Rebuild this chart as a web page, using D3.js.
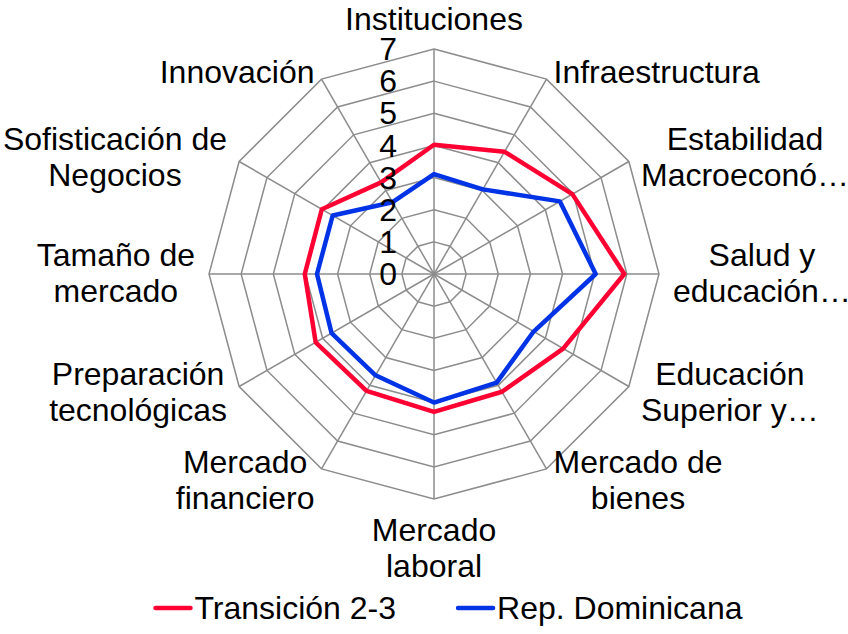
<!DOCTYPE html>
<html>
<head>
<meta charset="utf-8">
<script src="https://cdn.jsdelivr.net/npm/d3@7"></script>
<style>
  body { margin: 0; background: #fff; }
  text { font-family: "Liberation Sans", Arial, sans-serif; fill: #000; }
</style>
</head>
<body>
<div id="plot"></div>
<script>
// categories, clockwise from the top; each entry is the label's lines
const categories = [
  ["Instituciones"],
  ["Infraestructura"],
  ["Estabilidad", "Macroeconó…"],
  ["Salud y", "educación…"],
  ["Educación", "Superior y…"],
  ["Mercado de", "bienes"],
  ["Mercado", "laboral"],
  ["Mercado", "financiero"],
  ["Preparación", "tecnológicas"],
  ["Tamaño de", "mercado"],
  ["Sofisticación de", "Negocios"],
  ["Innovación"]
];
const transicion = [4.02, 4.39, 4.97, 5.92, 4.64, 4.23, 4.29, 4.2, 4.25, 4.02, 4.03, 3.29];
const repDominicana = [3.11, 3.04, 4.52, 5.03, 3.58, 3.9, 4.0, 3.64, 3.68, 3.64, 3.64, 2.58];
const seriesNames = ["Transición 2-3", "Rep. Dominicana"];
const ticks = [0, 1, 2, 3, 4, 5, 6, 7];

const width = 848, height = 634;
const cx = 434, cy = 274, radius = 225;
const fontSize = 32, lineH = 36;
const colors = ["#ff0033", "#0033e6"];
const gridColor = "#8c8c8c";

const svg = d3.select("#plot").append("svg")
  .attr("width", width)
  .attr("height", height);

const r = d3.scaleLinear().domain([0, 7]).range([0, radius]);
const angle = d3.scaleLinear().domain([0, categories.length]).range([0, 2 * Math.PI]);
const pt = (i, v) => [cx + r(v) * Math.sin(angle(i)), cy - r(v) * Math.cos(angle(i))];

const g = svg.append("g");

// grid rings
const idx = d3.range(categories.length);
g.selectAll(".ring")
  .data(ticks.filter(t => t > 0))
  .enter().append("polygon")
  .attr("points", t => idx.map(i => pt(i, t).join(",")).join(" "))
  .attr("fill", "none")
  .attr("stroke", gridColor)
  .attr("stroke-width", 1.5);

// spokes
g.selectAll(".spoke")
  .data(idx)
  .enter().append("line")
  .attr("x1", cx).attr("y1", cy)
  .attr("x2", i => pt(i, 7)[0])
  .attr("y2", i => pt(i, 7)[1])
  .attr("stroke", gridColor)
  .attr("stroke-width", 1.5);

// series
const line = d3.lineRadial()
  .angle((d, i) => angle(i))
  .radius(d => r(d))
  .curve(d3.curveLinearClosed);

[transicion, repDominicana].forEach((vals, k) => {
  g.append("path")
    .attr("transform", `translate(${cx},${cy})`)
    .attr("d", line(vals))
    .attr("fill", "none")
    .attr("stroke", colors[k])
    .attr("stroke-width", 4.5)
    .attr("stroke-linejoin", "round");
});

// tick labels
g.selectAll(".tick")
  .data(ticks)
  .enter().append("text")
  .attr("x", cx - 37)
  .attr("y", t => cy - r(t))
  .attr("dy", "0.35em")
  .attr("text-anchor", "end")
  .style("font-size", fontSize + "px")
  .text(t => t);

// category labels
const gap = 14;
categories.forEach((lines, i) => {
  const a = angle(i);
  const s = Math.sin(a), c = Math.cos(a);
  const px = cx + (radius + gap) * s;
  const py = cy - (radius + gap) * c;
  const t = g.append("text")
    .attr("text-anchor", "middle")
    .style("font-size", fontSize + "px");
  lines.forEach((ln, j) => {
    t.append("tspan").attr("x", 0).attr("y", j * lineH).text(ln);
  });
  const w = d3.max(t.selectAll("tspan").nodes(), n => n.getComputedTextLength());
  const h = lines.length * lineH;
  let left;
  if (s > 0.01) left = px;
  else if (s < -0.01) left = px - w;
  else left = px - w / 2;
  let top;
  if (c > 0.99) top = py - h + 3;
  else if (c < -0.99) top = py;
  else top = py - h / 2 + 7 * Math.max(c, 0);
  t.attr("transform", `translate(${left + w / 2},${top + fontSize * 0.86})`);
});

// legend
const legend = svg.append("g");
const items = seriesNames.map((name, k) => {
  const it = legend.append("g");
  it.append("line")
    .attr("x1", 0).attr("x2", 35)
    .attr("y1", 0).attr("y2", 0)
    .attr("stroke", colors[k])
    .attr("stroke-width", 4.5)
    .attr("stroke-linecap", "round");
  const tx = it.append("text")
    .attr("x", 39)
    .attr("dy", "0.35em")
    .style("font-size", fontSize + "px")
    .text(name);
  return { it, w: 39 + tx.node().getComputedTextLength() };
});
const spacing = 62;
const total = d3.sum(items, d => d.w) + spacing * (items.length - 1);
let lx = 449 - total / 2;
items.forEach(d => {
  d.it.attr("transform", `translate(${lx},608)`);
  lx += d.w + spacing;
});
</script>
</body>
</html>
